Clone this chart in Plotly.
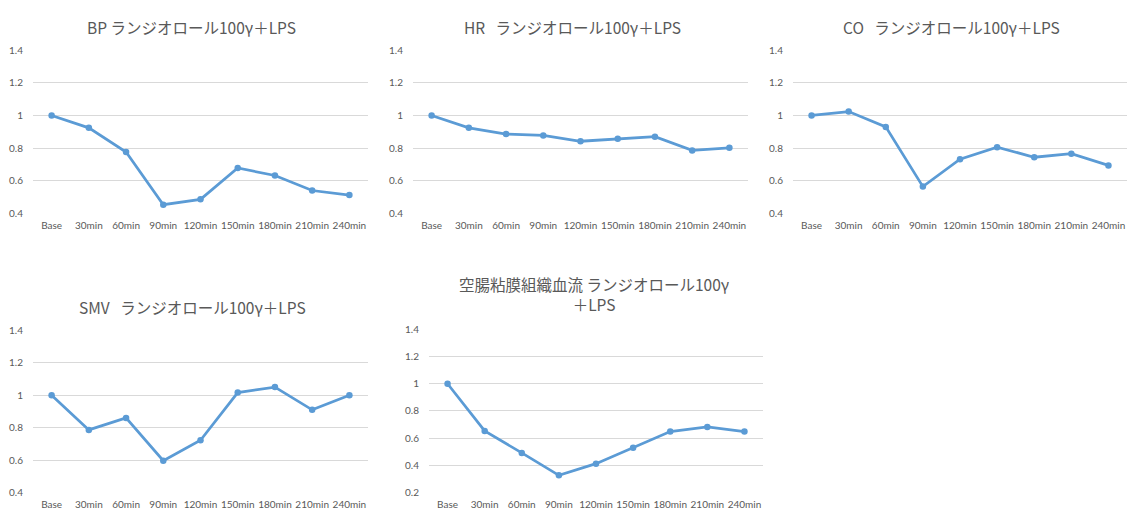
import plotly.graph_objects as go

W, H = 1132, 517

categories = ["Base", "30min", "60min", "90min", "120min", "150min", "180min", "210min", "240min"]

bp = [1.0, 0.924, 0.776, 0.453, 0.486, 0.678, 0.632, 0.540, 0.512]
hr = [1.0, 0.924, 0.886, 0.878, 0.842, 0.858, 0.870, 0.786, 0.802]
co = [1.0, 1.024, 0.930, 0.564, 0.732, 0.806, 0.744, 0.766, 0.694]
smv = [1.0, 0.786, 0.860, 0.596, 0.722, 1.016, 1.050, 0.910, 1.0]
jejunum = [1.0, 0.653, 0.491, 0.326, 0.412, 0.529, 0.648, 0.682, 0.648]

SP = "\u00a0\u00a0\u00a0"
titles = [
    "BP\u00a0ランジオロール100γ＋LPS",
    "HR" + SP + "ランジオロール100γ＋LPS",
    "CO" + SP + "ランジオロール100γ＋LPS",
    "SMV" + SP + "ランジオロール100γ＋LPS",
    "空腸粘膜組織血流\u00a0ランジオロール100γ<br>＋LPS",
]
series = [bp, hr, co, smv, jejunum]

# panel geometry in pixels: (x0, x1, ytop, ybottom, yrange, title_cx, title_cy)
panels = [
    (33, 368, 44.3, 211.7, [0.4, 1.4], 191, 21),
    (413, 748, 44.3, 211.7, [0.4, 1.4], 572, 21),
    (793, 1127, 44.3, 211.7, [0.4, 1.4], 951, 21),
    (33, 368, 331.7, 498, [0.4, 1.4], 192, 308),
    (429, 763, 330.7, 498, [0.2, 1.4], 594, 294),
]

LINE = "#5b9bd5"
GRID = "#d9d9d9"
TXT = "#595959"

fig = go.Figure()
annotations = []
for i, (vals, title, p) in enumerate(zip(series, titles, panels)):
    x0, x1, yt, yb, yr, tcx, tcy = p
    n = "" if i == 0 else str(i + 1)
    fig.add_trace(go.Scatter(
        x=categories, y=vals, mode="lines+markers",
        line=dict(color=LINE, width=2.75),
        marker=dict(color=LINE, size=6.5),
        xaxis="x" + n, yaxis="y" + n, showlegend=False,
    ))
    fig.layout["xaxis" + n] = dict(
        domain=[x0 / W, x1 / W], anchor="y" + n,
        type="category", range=[-0.5, 8.5],
        showgrid=False, zeroline=False, showline=False, ticks="",
        tickfont=dict(family="Lato, Open Sans, sans-serif", size=10, color=TXT),
        ticklabelstandoff=5, fixedrange=True,
    )
    fig.layout["yaxis" + n] = dict(
        domain=[(H - yb) / H, (H - yt) / H], anchor="x" + n,
        range=yr, dtick=0.2, tick0=0,
        showgrid=True, gridcolor=GRID, gridwidth=1,
        zeroline=False, showline=False, ticks="",
        tickfont=dict(family="Lato, Open Sans, sans-serif", size=10, color=TXT),
        ticklabelstandoff=9, fixedrange=True,
    )
    annotations.append(dict(
        text=title, x=tcx / W, y=(H - tcy) / H, xref="paper", yref="paper",
        xanchor="center", yanchor="middle", showarrow=False,
        font=dict(family="Noto Sans CJK JP", size=15.5, color=TXT),
    ))

fig.update_layout(
    width=W, height=H, margin=dict(l=0, r=0, t=0, b=0),
    paper_bgcolor="white", plot_bgcolor="white",
    annotations=annotations,
)

fig.write_html("out.html")
